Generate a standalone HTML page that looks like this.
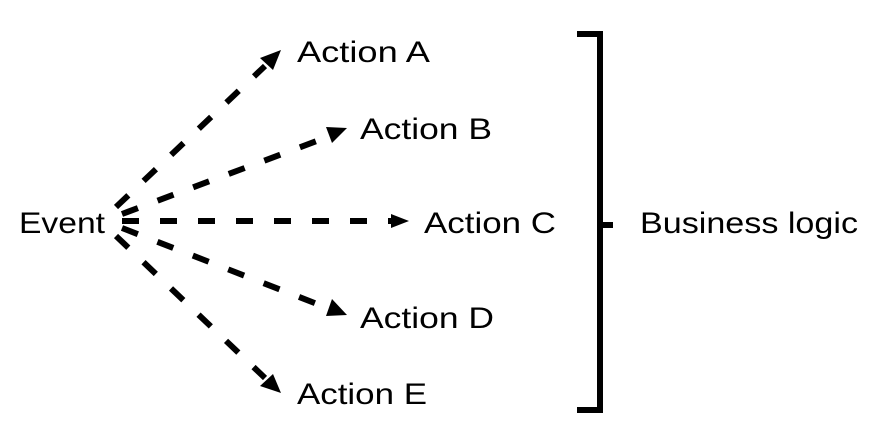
<!DOCTYPE html>
<html><head><meta charset="utf-8"><style>
html,body{margin:0;padding:0;background:#fff;}
svg{display:block;}
text{font-family:"Liberation Sans",sans-serif;font-size:30px;fill:#000;}
</style></head><body>
<svg width="882" height="446" viewBox="0 0 882 446" xmlns="http://www.w3.org/2000/svg">
<g stroke="#000" stroke-width="6" stroke-dasharray="17 21" fill="none">
<line x1="116" y1="207" x2="265" y2="66"/>
<line x1="122" y1="214" x2="330" y2="136"/>
<line x1="122" y1="221" x2="392" y2="221"/>
<line x1="122" y1="228" x2="330" y2="309"/>
<line x1="116" y1="236" x2="265" y2="378"/>
</g>
<g fill="#000">
<polygon points="281,50 260,58 273,70"/>
<polygon points="347,128 326,127 332,143"/>
<polygon points="409,221 391,214 391,228"/>
<polygon points="347,315 332,299 326,316"/>
<polygon points="281,393 273,374 260,386"/>
<rect x="597" y="31" width="6" height="382"/>
<rect x="577" y="31" width="26" height="6"/>
<rect x="577" y="407" width="26" height="6"/>
<rect x="603" y="222" width="10" height="6"/>
</g>
<text x="19" y="233" textLength="86" lengthAdjust="spacingAndGlyphs">Event</text>
<text x="297" y="62" textLength="133" lengthAdjust="spacingAndGlyphs">Action A</text>
<text x="360" y="139" textLength="132" lengthAdjust="spacingAndGlyphs">Action B</text>
<text x="424" y="233" textLength="132" lengthAdjust="spacingAndGlyphs">Action C</text>
<text x="360" y="328" textLength="134" lengthAdjust="spacingAndGlyphs">Action D</text>
<text x="297" y="404" textLength="130" lengthAdjust="spacingAndGlyphs">Action E</text>
<text x="640" y="233" textLength="218" lengthAdjust="spacingAndGlyphs">Business logic</text>
</svg>
</body></html>
